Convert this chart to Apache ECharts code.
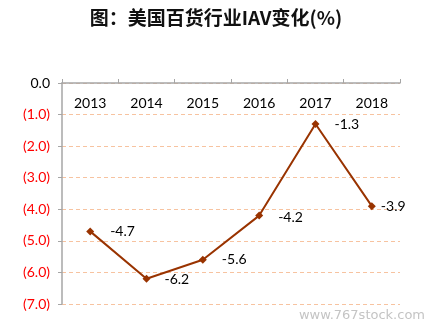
<!DOCTYPE html>
<html><head><meta charset="utf-8">
<script src="https://cdn.jsdelivr.net/npm/echarts@6/dist/echarts.min.js"></script>
<style>html,body{margin:0;padding:0;background:#fff}#c{width:432px;height:328px}</style>
</head><body><div id="c"></div>
<script>
const categories = ['2013','2014','2015','2016','2017','2018'];
const values = [-4.7, -6.2, -5.6, -4.2, -1.3, -3.9];
const labelOffsets = [[11,0],[9,1],[10,0],[10,2],[10,0],[0,0]];
const chart = echarts.init(document.getElementById('c'));
chart.setOption({
  animation: false,
  title: {
    text: '图：美国百货行业IAV变化(%)', left: 'center', top: 3,
    textStyle: {fontFamily: 'Noto Sans CJK SC', fontWeight: 'bold', fontSize: 19, color: '#111'}
  },
  graphic: [{type: 'text', right: 7, top: 309, style: {text: 'www.767stock.com', fill: '#c4c4c4', font: '13px "DejaVu Sans"'}}],
  grid: {left: 62, top: 83, right: 32, bottom: 24},
  xAxis: {
    type: 'category', data: categories, position: 'top', boundaryGap: true,
    axisLine: {lineStyle: {color: '#a6a6a6', width: 1.5}},
    axisTick: {show: true, inside: false, length: 4, lineStyle: {color: '#a6a6a6'}},
    axisLabel: {inside: true, margin: 13, color: '#000', fontFamily: 'Lato', fontSize: 14},
    splitLine: {show: false}
  },
  yAxis: {
    type: 'value', min: -7, max: 0, interval: 1,
    axisLine: {show: true, lineStyle: {color: '#a6a6a6', width: 1.5}},
    axisTick: {show: true, length: 4, lineStyle: {color: '#a6a6a6'}},
    axisLabel: {
      margin: 12, fontFamily: 'Lato', fontSize: 14,
      formatter: v => v === 0 ? '0.0' : '(' + Math.abs(v).toFixed(1) + ')',
      color: v => (Number(v) === 0 ? '#000' : '#ff0000')
    },
    splitLine: {show: true, lineStyle: {color: '#f7c3a0', type: [4, 3], width: 1}}
  },
  series: [{
    type: 'line', symbol: 'diamond', symbolSize: 8,
    lineStyle: {color: '#993300', width: 2},
    itemStyle: {color: '#993300'},
    data: values.map((v, i) => ({value: v, label: {offset: labelOffsets[i]}})),
    label: {show: true, position: 'right', color: '#000', fontFamily: 'Lato', fontSize: 14, formatter: p => p.value.toFixed(1)}
  }]
});
</script></body></html>
